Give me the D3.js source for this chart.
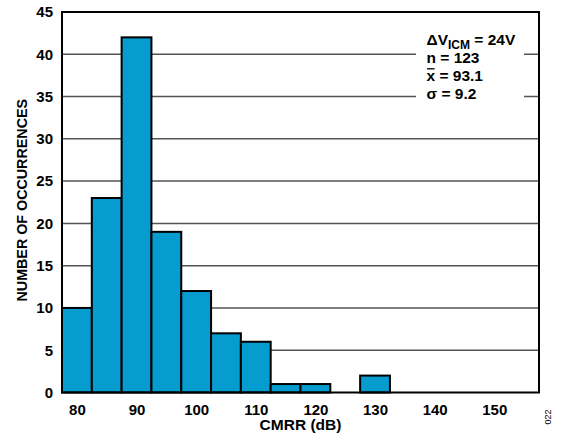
<!DOCTYPE html>
<html>
<head>
<meta charset="utf-8">
<script src="https://cdn.jsdelivr.net/npm/d3@7"></script>
<style>
  html, body { margin: 0; padding: 0; background: #fff; }
  svg { display: block; }
  text { font-family: "Liberation Sans", Arial, sans-serif; font-weight: bold; fill: #000; }
</style>
</head>
<body>
<svg id="chart" width="564" height="446"></svg>
<script>
// ---- data ----
const binCenters = [80, 85, 90, 95, 100, 105, 110, 115, 120, 125, 130];
const counts = [10, 23, 42, 19, 12, 7, 6, 1, 1, 0, 2];
const binWidth = 5;
const xTicks = [80, 90, 100, 110, 120, 130, 140, 150];
const yTicks = [0, 5, 10, 15, 20, 25, 30, 35, 40, 45];
const gridValues = [5, 10, 15, 20, 25, 30, 35, 40];
const xLabel = "CMRR (dB)";
const yLabel = "NUMBER OF OCCURRENCES";
const statsLines = ["n = 123", "= 93.1", "σ = 9.2"];

// ---- layout ----
const svg = d3.select("#chart");
const L = 62, R = 539, T = 12, B = 392.5;
const x = d3.scaleLinear().domain([77.5, 157.5]).range([L, R]);
const y = d3.scaleLinear().domain([0, 45]).range([B, T]);

// gridlines
svg.append("g").selectAll("line").data(gridValues).join("line")
  .attr("x1", L).attr("x2", R)
  .attr("y1", d => y(d)).attr("y2", d => y(d))
  .attr("stroke", "#555").attr("stroke-width", 1.5);

// annotation background
svg.append("rect").attr("x", 416).attr("y", 30).attr("width", 108).attr("height", 75).attr("fill", "#fff");

// bars
svg.append("g").selectAll("rect").data(binCenters.map((c, i) => ({c, v: counts[i]})).filter(d => d.v > 0)).join("rect")
  .attr("x", d => x(d.c - binWidth / 2))
  .attr("width", d => x(d.c + binWidth / 2) - x(d.c - binWidth / 2))
  .attr("y", d => y(d.v))
  .attr("height", d => y(0) - y(d.v))
  .attr("fill", "#069cd0")
  .attr("stroke", "#000").attr("stroke-width", 2);

// frame
svg.append("rect").attr("x", L).attr("y", T).attr("width", R - L).attr("height", B - T)
  .attr("fill", "none").attr("stroke", "#000").attr("stroke-width", 2);

// axes (ticks hidden, labels only)
const xAxis = svg.append("g").attr("transform", `translate(0,${B})`)
  .call(d3.axisBottom(x).tickValues(xTicks).tickSize(0).tickPadding(11.5));
xAxis.select(".domain").remove();
xAxis.selectAll("text").attr("font-size", 15).style("font-family", '"Liberation Sans", Arial, sans-serif').style("font-weight", "bold").attr("fill", "#000");

const yAxis = svg.append("g").attr("transform", `translate(${L},0)`)
  .call(d3.axisLeft(y).tickValues(yTicks).tickSize(0).tickPadding(9));
yAxis.select(".domain").remove();
yAxis.selectAll("text").attr("font-size", 15).style("font-family", '"Liberation Sans", Arial, sans-serif').style("font-weight", "bold").attr("fill", "#000");

// axis titles
svg.append("text").attr("x", (L + R) / 2).attr("y", 430).attr("text-anchor", "middle")
  .attr("font-size", 15.5).text(xLabel);
svg.append("text").attr("transform", `translate(26.5,${(T + B) / 2 - 2}) rotate(-90)`).attr("text-anchor", "middle")
  .attr("font-size", 14.3).text(yLabel);

// annotation
const ax = 426.5;
const fs = 15.5;
const t1 = svg.append("text").attr("x", ax).attr("y", 45).attr("font-size", fs);
t1.append("tspan").text("ΔV");
t1.append("tspan").attr("font-size", 12).attr("dy", 4).text("ICM");
t1.append("tspan").attr("dy", -4).text(" = 24V");

svg.append("text").attr("x", ax).attr("y", 62.5).attr("font-size", fs).text(statsLines[0]);
const xbar = svg.append("text").attr("x", ax).attr("y", 81).attr("font-size", fs).text("x");
const xw = xbar.node().getComputedTextLength();
svg.append("line").attr("x1", ax + 0.5).attr("x2", ax + xw - 0.5).attr("y1", 68.8).attr("y2", 68.8)
  .attr("stroke", "#000").attr("stroke-width", 1.3);
svg.append("text").attr("x", ax + xw + 4.3).attr("y", 81).attr("font-size", fs).text(statsLines[1]);
svg.append("text").attr("x", ax).attr("y", 99).attr("font-size", fs).text(statsLines[2]);

// figure code
svg.append("text").attr("transform", "translate(551,417) rotate(-90)").attr("text-anchor", "middle")
  .attr("font-size", 9).style("font-weight", "normal").attr("fill", "#666").text("022");
</script>
</body>
</html>
